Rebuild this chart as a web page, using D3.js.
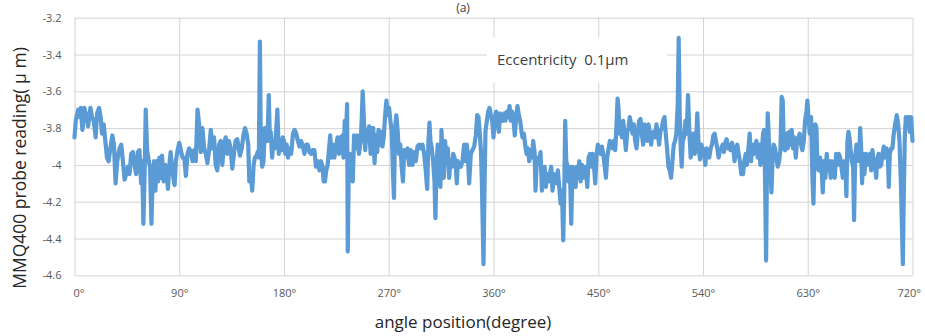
<!DOCTYPE html>
<html>
<head>
<meta charset="utf-8">
<script src="https://cdn.jsdelivr.net/npm/d3@7/dist/d3.min.js"></script>
<style>
  html, body { margin: 0; padding: 0; background: #fff; }
  svg { display: block; font-family: "Open Sans", "DejaVu Sans", sans-serif; }
</style>
</head>
<body>
<svg id="chart" width="925" height="336"></svg>
<script>
// Probe readings (µm) against angular position (degrees), two revolutions
const angleDeg = [
  0, 1.1, 3.1, 4.6, 5.4, 6.8, 8.5, 10.3, 11.7, 13.7, 15.1, 16.5, 18.2, 19.4, 21.1, 22.5, 23.6, 25.1, 26.5, 27.9,
  29.3, 30.8, 32.5, 33.9, 35.3, 36.7, 38.7, 40.2, 41.6, 43.0, 44.4, 45.9, 47.3, 48.7, 50.1, 51.5, 53.0, 54.4, 55.8, 57.2,
  58.1, 59.2, 60.4, 61.2, 62.4, 63.8, 64.9, 66.1, 67.2, 68.4, 69.5, 70.6, 71.8, 72.9, 74.0, 75.2, 76.6, 78.0, 79.2, 80.3,
  81.5, 82.6, 83.7, 84.9, 86.0, 87.1, 88.6, 90.0, 91.4, 92.8, 94.3, 95.7, 97.1, 98.5, 100.0, 101.4, 102.8, 104.2, 105.7, 107.1,
  108.5, 109.9, 111.4, 112.8, 114.2, 115.6, 117.1, 118.5, 119.9, 121.3, 122.7, 124.2, 125.6, 127.0, 128.4, 129.9, 131.3, 132.7, 134.1, 135.6,
  137.0, 138.4, 139.8, 142.2, 143.7, 145.1, 146.5, 147.9, 149.3, 150.2, 151.6, 152.7, 153.9, 155.0, 156.4, 157.3, 158.4, 159.3, 160.1, 161.3,
  162.4, 163.5, 165.0, 165.8, 166.9, 167.8, 168.6, 169.8, 170.9, 172.1, 173.2, 174.3, 175.5, 176.6, 177.7, 178.9, 180.0, 181.1, 182.3, 183.4,
  184.8, 186.2, 187.7, 189.1, 190.5, 191.9, 193.3, 194.8, 196.2, 197.6, 199.0, 200.4, 201.9, 203.3, 204.7, 206.1, 207.5, 209.0, 210.4, 211.8,
  213.2, 214.1, 215.2, 216.3, 217.5, 218.6, 219.7, 220.9, 222.0, 223.2, 224.6, 226.0, 227.4, 228.8, 230.3, 231.1, 232.2, 233.4, 234.2, 234.8,
  235.6, 236.8, 237.9, 239.1, 240.2, 241.6, 243.0, 244.4, 245.9, 246.7, 247.6, 248.7, 249.8, 251.0, 252.1, 253.2, 254.4, 255.5, 256.7, 257.8,
  258.9, 260.1, 261.2, 262.3, 263.5, 264.6, 265.7, 266.9, 268.0, 269.1, 270.3, 271.4, 272.6, 273.7, 274.5, 275.4, 276.5, 277.7, 278.8, 279.9,
  281.1, 282.2, 283.3, 284.5, 286.1, 287.5, 288.9, 290.4, 291.8, 293.2, 294.7, 296.1, 297.5, 299.0, 300.4, 301.8, 303.0, 304.1, 305.0, 305.8,
  307.0, 308.1, 309.3, 310.1, 311.0, 312.1, 313.3, 314.4, 315.3, 316.2, 317.3, 318.4, 319.6, 320.7, 321.9, 323.0, 324.2, 325.3, 326.5, 327.6,
  328.5, 329.3, 330.5, 331.9, 333.3, 334.8, 336.2, 337.1, 337.9, 339.1, 340.5, 341.9, 343.4, 344.8, 346.0, 347.1, 348.2, 349.1, 350.0, 351.4,
  352.3, 353.1, 354.3, 355.4, 356.6, 357.7, 358.9, 360.0, 361.1, 362.3, 363.4, 364.6, 365.7, 366.9, 368.0, 369.2, 370.3, 371.5, 372.6, 373.8,
  374.9, 376.0, 377.2, 378.3, 379.5, 380.6, 381.8, 382.9, 384.1, 384.9, 386.1, 387.2, 388.4, 389.5, 390.7, 391.8, 393.0, 394.1, 395.3, 396.1,
  397.0, 398.1, 399.3, 400.4, 401.6, 402.7, 403.9, 405.0, 406.1, 407.3, 408.4, 409.6, 410.7, 411.9, 413.0, 414.2, 415.3, 416.5, 417.6, 418.8,
  419.9, 420.8, 421.6, 422.5, 423.3, 424.5, 425.6, 426.8, 427.9, 429.1, 430.6, 431.4, 432.6, 433.7, 434.9, 436.0, 437.1, 438.3, 439.4, 440.6,
  441.7, 442.9, 444.0, 445.1, 446.3, 447.4, 448.6, 449.7, 450.9, 452.0, 453.1, 454.3, 455.4, 456.6, 457.7, 458.9, 460.0, 461.1, 462.3, 463.4,
  464.6, 465.7, 466.6, 467.4, 468.3, 469.1, 470.3, 471.4, 472.6, 473.7, 474.9, 476.0, 477.1, 478.3, 479.4, 480.6, 481.7, 482.9, 484.0, 485.1,
  486.3, 487.4, 488.6, 489.7, 490.9, 492.0, 493.1, 494.3, 495.4, 496.6, 497.7, 498.9, 500.0, 501.1, 502.3, 503.4, 504.6, 505.7, 506.9, 508.0,
  509.1, 510.3, 511.4, 512.6, 513.7, 514.9, 516.0, 517.1, 518.3, 519.1, 520.0, 520.9, 521.7, 522.6, 523.7, 524.9, 526.0, 527.1, 528.3, 529.4,
  530.6, 531.7, 532.9, 534.0, 535.1, 536.3, 537.4, 538.6, 539.7, 540.9, 542.0, 543.1, 544.3, 545.4, 546.6, 547.7, 548.9, 550.0, 551.1, 552.3,
  553.4, 554.6, 555.7, 556.9, 558.0, 559.1, 560.3, 561.4, 562.6, 563.7, 564.9, 566.0, 567.1, 568.3, 569.4, 570.6, 571.7, 572.9, 574.4, 575.5,
  576.7, 577.8, 579.0, 580.1, 581.3, 582.4, 583.6, 584.7, 585.9, 587.0, 588.2, 589.3, 590.4, 591.6, 592.5, 593.3, 594.2, 595.0, 595.6, 596.5,
  597.6, 598.8, 599.6, 600.8, 601.9, 603.1, 604.2, 605.4, 606.5, 607.6, 608.5, 609.4, 610.5, 611.7, 612.8, 614.0, 615.1, 616.2, 617.4, 618.5,
  619.7, 620.8, 622.0, 623.1, 624.3, 625.4, 626.6, 627.7, 628.9, 629.7, 630.6, 631.7, 632.9, 634.0, 634.9, 635.7, 636.6, 637.5, 638.3, 639.5,
  640.6, 641.8, 642.9, 644.0, 645.2, 646.3, 647.5, 648.6, 649.8, 650.9, 652.1, 653.2, 654.4, 655.5, 656.7, 657.8, 658.9, 660.1, 661.2, 662.4,
  663.2, 664.1, 665.0, 665.8, 666.7, 667.8, 669.0, 669.8, 670.7, 671.8, 673.0, 674.1, 675.0, 675.9, 676.7, 677.6, 678.7, 679.9, 681.0, 682.2,
  683.3, 684.5, 685.6, 686.7, 687.9, 688.8, 689.6, 690.8, 691.9, 693.1, 694.2, 695.3, 696.5, 697.6, 698.8, 699.6, 700.5, 701.7, 702.8, 703.9,
  705.1, 706.5, 707.7, 708.8, 710.0, 710.8, 711.7, 712.5, 713.4, 714.3, 715.4, 716.6, 717.7, 718.8, 720.0
];
const readingUm = [
  -3.85, -3.76, -3.70, -3.74, -3.69, -3.81, -3.69, -3.74, -3.79, -3.69, -3.74, -3.76, -3.85, -3.72, -3.69, -3.74, -3.83, -3.78, -3.87, -3.96,
  -3.98, -3.91, -3.84, -3.89, -4.10, -3.98, -3.91, -3.89, -3.98, -4.08, -4.05, -4.01, -4.05, -3.94, -3.93, -4.00, -4.05, -3.93, -3.92, -4.10,
  -3.98, -4.32, -4.00, -3.70, -3.92, -3.98, -4.01, -4.32, -4.07, -3.98, -4.14, -3.98, -4.09, -3.96, -4.07, -3.95, -4.09, -4.00, -4.05, -4.13,
  -4.00, -3.93, -4.01, -4.07, -4.11, -3.98, -3.92, -3.88, -3.92, -3.96, -3.96, -4.06, -3.94, -3.91, -3.93, -3.98, -3.92, -3.98, -3.70, -3.78,
  -3.93, -3.80, -3.91, -3.94, -3.99, -3.92, -3.81, -3.91, -3.85, -4.00, -4.03, -3.89, -3.87, -4.00, -3.89, -3.85, -3.94, -3.87, -3.91, -4.02,
  -3.94, -3.87, -3.86, -3.95, -3.91, -3.84, -3.80, -3.83, -3.89, -4.09, -4.07, -4.14, -4.00, -3.96, -3.95, -3.93, -3.96, -3.33, -3.91, -4.01,
  -3.98, -3.80, -3.82, -3.87, -3.62, -3.85, -3.82, -3.96, -3.87, -3.91, -3.82, -3.70, -3.94, -3.89, -3.92, -3.85, -3.87, -3.94, -3.89, -3.96,
  -3.91, -3.94, -3.83, -3.81, -3.83, -3.87, -3.90, -3.87, -3.90, -3.94, -3.89, -3.89, -3.93, -3.94, -3.92, -3.92, -4.01, -3.98, -4.03, -3.98,
  -4.01, -4.09, -4.09, -4.03, -4.00, -3.92, -3.84, -3.96, -3.89, -3.96, -3.91, -3.85, -3.94, -3.85, -3.84, -3.96, -3.76, -3.82, -3.67, -4.47,
  -4.03, -3.94, -4.02, -4.09, -3.84, -3.91, -3.84, -3.94, -3.87, -3.76, -3.60, -3.76, -3.92, -3.81, -3.87, -3.79, -3.94, -3.80, -3.80, -3.99,
  -3.84, -3.93, -3.81, -3.89, -3.82, -3.90, -3.85, -3.73, -3.65, -3.73, -3.69, -3.76, -3.82, -4.06, -4.18, -3.80, -3.73, -3.82, -3.94, -3.89,
  -4.01, -4.09, -3.92, -3.96, -3.91, -4.00, -3.92, -4.00, -3.93, -3.98, -3.90, -3.89, -3.91, -3.89, -3.94, -4.03, -4.13, -3.87, -3.77, -3.87,
  -3.91, -3.98, -4.09, -4.29, -4.01, -3.89, -3.96, -4.12, -3.81, -3.94, -4.07, -3.87, -3.98, -3.91, -4.07, -3.98, -4.01, -3.94, -3.96, -4.01,
  -4.10, -3.98, -4.00, -4.01, -3.98, -3.89, -3.98, -3.89, -3.94, -4.10, -3.94, -3.92, -3.90, -3.84, -3.73, -3.74, -3.83, -3.91, -4.09, -4.54,
  -4.12, -3.82, -3.76, -3.71, -3.69, -3.73, -3.76, -3.85, -3.74, -3.71, -3.78, -3.82, -3.72, -3.74, -3.76, -3.72, -3.76, -3.71, -3.74, -3.68,
  -3.76, -3.71, -3.76, -3.84, -3.74, -3.68, -3.73, -3.76, -3.82, -3.85, -3.83, -3.89, -3.94, -3.91, -3.98, -3.92, -3.96, -3.87, -3.93, -4.14,
  -4.01, -3.96, -3.98, -3.93, -4.14, -4.07, -4.01, -4.12, -4.05, -4.09, -4.05, -4.01, -4.14, -4.05, -4.07, -4.10, -4.03, -4.12, -4.21, -4.14,
  -4.41, -4.14, -3.76, -3.98, -4.00, -4.09, -4.01, -4.32, -4.01, -4.03, -4.12, -4.01, -4.07, -3.98, -4.09, -4.00, -4.07, -4.01, -4.03, -4.12,
  -3.96, -3.94, -4.01, -3.94, -4.00, -4.10, -3.94, -3.89, -3.91, -3.94, -3.90, -3.94, -4.00, -4.07, -3.96, -3.91, -3.87, -3.89, -3.91, -3.87,
  -3.92, -3.78, -3.64, -3.69, -3.83, -3.78, -3.85, -3.76, -3.83, -3.92, -3.82, -3.80, -3.74, -3.78, -3.83, -3.78, -3.87, -3.91, -3.83, -3.76,
  -3.75, -3.83, -3.89, -3.78, -3.82, -3.87, -3.78, -3.82, -3.89, -3.83, -3.82, -3.85, -3.78, -3.83, -3.89, -3.82, -3.80, -3.76, -3.74, -3.83,
  -3.91, -4.01, -4.03, -4.07, -3.98, -3.89, -3.87, -3.83, -3.67, -3.31, -3.73, -3.92, -4.01, -3.87, -3.85, -3.76, -3.83, -3.62, -3.82, -3.96,
  -3.91, -3.83, -3.94, -3.89, -3.72, -3.91, -3.97, -3.89, -3.91, -3.94, -4.00, -3.91, -3.94, -3.96, -3.91, -3.89, -3.84, -3.83, -3.87, -3.91,
  -3.96, -3.92, -3.91, -3.89, -3.93, -3.88, -3.86, -3.91, -3.89, -3.92, -3.88, -3.91, -3.98, -3.91, -3.89, -3.94, -3.98, -4.05, -4.05, -3.98,
  -3.94, -4.00, -3.91, -3.83, -3.98, -3.89, -3.94, -3.89, -3.87, -3.96, -3.89, -4.00, -3.94, -3.83, -3.81, -4.07, -4.52, -3.98, -3.72, -3.85,
  -3.98, -4.15, -4.00, -3.89, -3.91, -3.96, -4.01, -3.98, -3.92, -3.63, -3.65, -3.91, -3.92, -3.83, -3.91, -3.82, -3.89, -3.81, -3.91, -3.85,
  -3.96, -3.87, -3.85, -3.83, -3.89, -3.92, -3.87, -3.76, -3.71, -3.65, -3.74, -3.83, -3.74, -4.07, -4.21, -3.98, -3.78, -3.80, -4.01, -4.03,
  -3.96, -4.01, -4.15, -3.98, -4.07, -3.94, -4.03, -3.98, -4.07, -3.98, -4.01, -4.07, -3.94, -4.00, -3.94, -3.96, -4.01, -4.07, -3.98, -4.01,
  -4.17, -3.87, -3.82, -3.85, -3.91, -3.98, -4.01, -4.30, -3.96, -3.89, -3.92, -3.98, -3.80, -3.91, -4.10, -3.94, -4.05, -3.94, -4.00, -3.96,
  -3.94, -4.03, -3.92, -3.98, -4.01, -4.07, -3.98, -3.94, -4.01, -4.00, -3.94, -3.90, -3.96, -3.91, -3.94, -4.12, -3.94, -3.91, -3.91, -3.83,
  -3.78, -3.73, -3.78, -3.87, -4.09, -4.30, -4.54, -4.16, -3.85, -3.74, -3.76, -3.74, -3.82, -3.74, -3.87
];

const xTickValues = [0, 90, 180, 270, 360, 450, 540, 630, 720];
const xTickLabels = ["0°", "90°", "180°", "270°", "360°", "450°", "540°", "630°", "720°"];
const yTickValues = [-3.2, -3.4, -3.6, -3.8, -4.0, -4.2, -4.4, -4.6];
const yTickLabels = ["-3.2", "-3.4", "-3.6", "-3.8", "-4", "-4.2", "-4.4", "-4.6"];

const chartTitle = "(a)";
const xTitle = "angle position(degree)";
const yTitle = "MMQ400 probe reading( μ m)";
const noteText = "Eccentricity  0.1μm";

const svg = d3.select("#chart");
const plot = { left: 74.5, right: 912.5, top: 17.7, bottom: 275.3 };

const x = d3.scaleLinear().domain([0, 720]).range([plot.left, plot.right]);
const y = d3.scaleLinear().domain([-4.6, -3.2]).range([plot.bottom, plot.top]);

const gridColor = "#d3d3d3";
const tickColor = "#595959";

// Horizontal gridlines with value labels
const yAxis = d3.axisLeft(y)
  .tickValues(yTickValues)
  .tickSize(-(plot.right - plot.left))
  .tickPadding(13)
  .tickFormat((d, i) => yTickLabels[i]);

const gy = svg.append("g")
  .attr("transform", `translate(${plot.left},0)`)
  .call(yAxis);
gy.select(".domain").remove();
gy.selectAll(".tick line").attr("stroke", gridColor).attr("stroke-width", 1);
gy.selectAll(".tick text")
  .attr("fill", tickColor)
  .style("font-size", "11px")
  .style("font-family", "'Open Sans', sans-serif");

// Vertical gridlines with angle labels
const xAxis = d3.axisBottom(x)
  .tickValues(xTickValues)
  .tickSize(-(plot.bottom - plot.top))
  .tickPadding(14)
  .tickFormat((d, i) => xTickLabels[i]);

const gx = svg.append("g")
  .attr("transform", `translate(0,${plot.bottom})`)
  .call(xAxis);
gx.select(".domain").remove();
gx.selectAll(".tick line").attr("stroke", gridColor).attr("stroke-width", 1);
gx.selectAll(".tick text")
  .attr("fill", tickColor)
  .style("font-size", "11px")
  .style("font-family", "'Open Sans', sans-serif")
  .attr("text-anchor", (d, i) => i === 0 ? "start" : (i === xTickValues.length - 1 ? "end" : "middle"))
  .attr("dx", (d, i) => i === 0 ? -1.5 : (i === xTickValues.length - 1 ? 8 : 0));

// Annotation box over the gridlines
svg.append("rect")
  .attr("x", 487).attr("y", 37)
  .attr("width", 180).attr("height", 46)
  .attr("fill", "#ffffff");

svg.append("text")
  .attr("x", 497).attr("y", 65)
  .attr("fill", "#404040")
  .style("font-size", "15px")
  .attr("xml:space", "preserve")
  .style("white-space", "pre")
  .text(noteText);

// Measurement trace
const series = angleDeg.map((a, i) => ({ a, v: readingUm[i] }));
const line = d3.line()
  .x(d => x(d.a))
  .y(d => y(d.v));

svg.append("path")
  .datum(series)
  .attr("fill", "none")
  .attr("stroke", "#5b9bd5")
  .attr("stroke-width", 4.2)
  .attr("stroke-linejoin", "round")
  .attr("stroke-linecap", "round")
  .attr("d", line);

// Titles
svg.append("text")
  .attr("x", 463).attr("y", 12)
  .attr("text-anchor", "middle")
  .attr("fill", "#404040")
  .style("font-size", "12px")
  .text(chartTitle);

svg.append("text")
  .attr("x", 463).attr("y", 328)
  .attr("text-anchor", "middle")
  .attr("fill", "#262626")
  .style("font-size", "17px")
  .text(xTitle);

svg.append("text")
  .attr("transform", "translate(26,168) rotate(-90)")
  .attr("text-anchor", "middle")
  .attr("fill", "#262626")
  .style("font-size", "17.5px")
  .text(yTitle);
</script>
</body>
</html>
